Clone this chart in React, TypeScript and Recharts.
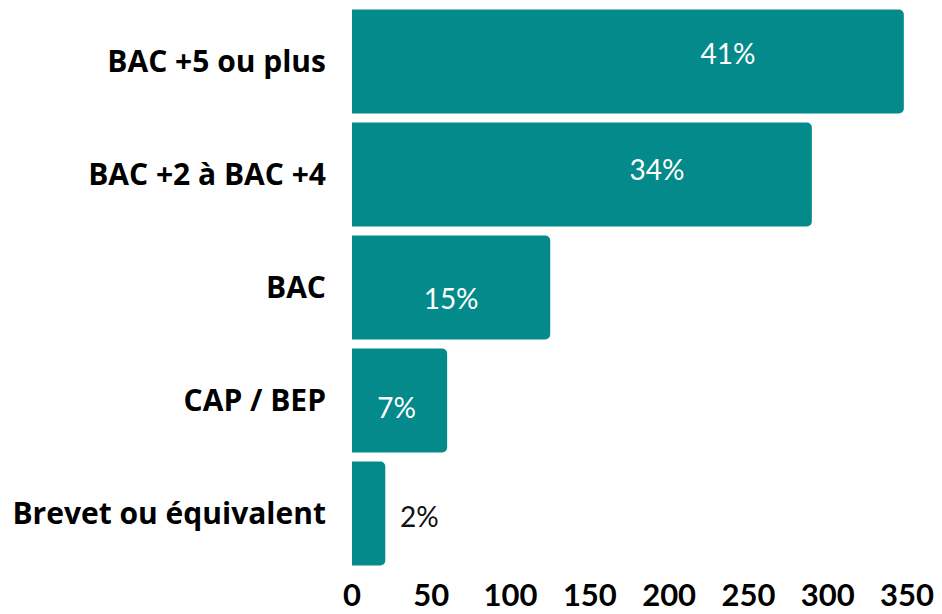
import React from "react";
import { BarChart, Bar, XAxis, YAxis, LabelList } from "recharts";

const categories = ["BAC +5 ou plus", "BAC +2 à BAC +4", "BAC", "CAP / BEP", "Brevet ou équivalent"];
const counts = [348, 290, 125, 60, 21];
const pctLabels = ["41%", "34%", "15%", "7%", "2%"];
const xTicks = [0, 50, 100, 150, 200, 250, 300, 350];

// label offsets relative to the bar centre (style only)
const labelDx = [100, 75, 0, -3, 0];
const labelDy = [-9, -6, 10, 6, 2];

const data = categories.map((name, i) => ({ name, value: counts[i], pct: pctLabels[i] }));

const FONT = "Lato, 'Open Sans', sans-serif";
const CAT_FONT = "'Open Sans', sans-serif";
const TEAL = "#048a8a";

const PctLabel = (props: any) => {
  const { x, y, width, height, index, value } = props;
  const inside = width > 60;
  const cx = inside ? x + width / 2 + labelDx[index] : x + width + 34;
  const cy = y + height / 2 + labelDy[index];
  return (
    <text
      x={cx}
      y={cy}
      textAnchor="middle"
      dominantBaseline="central"
      fill={inside ? "#ffffff" : "#111111"}
      fontFamily={FONT}
      fontSize={28}
    >
      {value}
    </text>
  );
};

export default function App() {
  return (
    <div style={{ position: "absolute", left: 0, top: 0, width: 942, height: 614, background: "#fff" }}>
      <BarChart
        width={942}
        height={614}
        data={data}
        layout="vertical"
        margin={{ top: 5, right: 35, bottom: 0, left: 0 }}
        barCategoryGap={4.5}
      >
        <XAxis
          type="number"
          domain={[0, 350]}
          ticks={xTicks}
          interval={0}
          axisLine={false}
          tickLine={false}
          tickMargin={8}
          height={44}
          tick={{ fill: "#000", fontFamily: FONT, fontWeight: 700, fontSize: 31 }}
        />
        <YAxis
          type="category"
          dataKey="name"
          width={352}
          axisLine={false}
          tickLine={false}
          tickMargin={20}
          tick={{ fill: "#000", fontFamily: CAT_FONT, fontWeight: 700, fontSize: 30 }}
        />
        <Bar dataKey="value" fill={TEAL} radius={[0, 5, 5, 0]} isAnimationActive={false}>
          <LabelList dataKey="pct" content={PctLabel} />
        </Bar>
      </BarChart>
    </div>
  );
}
